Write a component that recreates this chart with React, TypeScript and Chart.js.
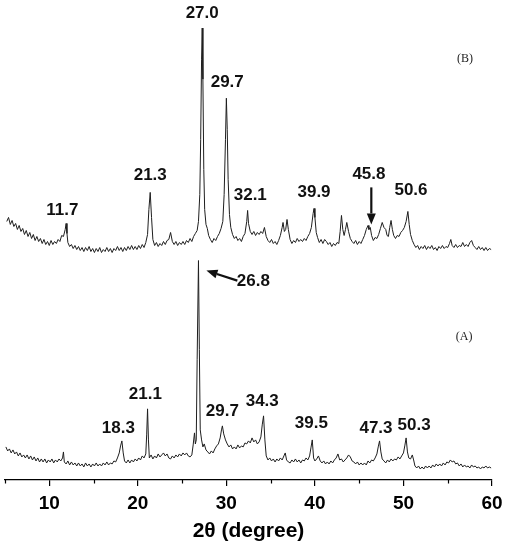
import React, { useEffect, useRef } from "react";
import { Chart, registerables } from "chart.js";

Chart.register(...registerables);

// 2θ axis
const X_MIN = 5;
const X_MAX = 60;
const majorTicks = [10, 20, 30, 40, 50, 60];
const minorTicks = [5, 15, 25, 35, 45, 55];

// Intensity (a.u.), stacked offsets already included
const traceB: [number, number][] = [
  [5.2, 258], [5.4, 262], [5.6, 255], [5.8, 259], [6.0, 253], [6.2, 256], [6.4, 250], [6.6, 254],
  [6.8, 248], [7.0, 251], [7.2, 245], [7.4, 249], [7.6, 243], [7.8, 247], [8.0, 241], [8.2, 245],
  [8.4, 239], [8.6, 243], [8.8, 238], [9.0, 241], [9.2, 236], [9.4, 240], [9.6, 235], [9.8, 238],
  [10.0, 234], [10.2, 239], [10.4, 235], [10.6, 238], [10.8, 236], [11.0, 240], [11.2, 238], [11.4, 244],
  [11.6, 243], [11.8, 250], [11.9, 256], [12.0, 246], [12.1, 237], [12.3, 233], [12.5, 235], [12.7, 231],
  [12.9, 234], [13.1, 230], [13.3, 233], [13.5, 229], [13.7, 232], [13.9, 228], [14.1, 232], [14.3, 229],
  [14.5, 233], [14.7, 228], [14.9, 231], [15.1, 227], [15.3, 231], [15.5, 228], [15.7, 232], [15.9, 227],
  [16.1, 230], [16.3, 228], [16.5, 232], [16.7, 228], [16.9, 231], [17.1, 227], [17.3, 231], [17.5, 229],
  [17.7, 233], [17.9, 229], [18.1, 232], [18.3, 228], [18.5, 232], [18.7, 229], [18.9, 233], [19.1, 230],
  [19.3, 234], [19.5, 230], [19.7, 233], [19.9, 230], [20.1, 234], [20.3, 231], [20.5, 235], [20.7, 232],
  [20.9, 237], [21.1, 245], [21.25, 270], [21.4, 287], [21.55, 262], [21.7, 240], [21.9, 234], [22.1, 237],
  [22.3, 233], [22.5, 236], [22.7, 234], [22.9, 238], [23.1, 235], [23.3, 239], [23.5, 240], [23.7, 247],
  [23.9, 238], [24.1, 235], [24.3, 238], [24.5, 234], [24.7, 237], [24.9, 235], [25.1, 238], [25.3, 235],
  [25.5, 239], [25.7, 237], [25.9, 241], [26.1, 238], [26.3, 243], [26.5, 246], [26.7, 249], [26.85, 258],
  [27.0, 285], [27.1, 340], [27.2, 420], [27.27, 451], [27.35, 400], [27.45, 310], [27.55, 270], [27.7, 255],
  [27.85, 251], [28.0, 244], [28.2, 240], [28.4, 237], [28.6, 241], [28.8, 239], [29.0, 243], [29.2, 246],
  [29.4, 251], [29.6, 258], [29.75, 285], [29.9, 340], [30.0, 381], [30.1, 350], [30.2, 300], [30.35, 265],
  [30.5, 252], [30.7, 245], [30.9, 241], [31.1, 243], [31.3, 239], [31.5, 241], [31.7, 238], [31.9, 243],
  [32.1, 246], [32.3, 258], [32.4, 269], [32.5, 256], [32.7, 248], [32.9, 245], [33.1, 248], [33.3, 244],
  [33.5, 247], [33.7, 245], [33.9, 248], [34.1, 246], [34.3, 252], [34.5, 243], [34.7, 239], [34.9, 237],
  [35.1, 240], [35.3, 236], [35.5, 238], [35.7, 235], [35.9, 239], [36.1, 244], [36.3, 252], [36.4, 257],
  [36.55, 248], [36.7, 250], [36.85, 260], [37.0, 250], [37.2, 240], [37.4, 236], [37.6, 239], [37.8, 237],
  [38.0, 241], [38.2, 238], [38.4, 240], [38.6, 238], [38.8, 241], [39.0, 239], [39.2, 243], [39.4, 246],
  [39.6, 252], [39.8, 266], [39.9, 271], [40.0, 262], [40.15, 247], [40.3, 242], [40.5, 237], [40.7, 240],
  [40.9, 236], [41.1, 240], [41.3, 238], [41.5, 235], [41.7, 237], [41.9, 233], [42.1, 236], [42.3, 234],
  [42.5, 237], [42.7, 236], [42.85, 248], [43.0, 264], [43.15, 250], [43.3, 244], [43.45, 250], [43.6, 257],
  [43.8, 248], [44.0, 241], [44.2, 238], [44.4, 236], [44.6, 239], [44.8, 235], [45.0, 238], [45.2, 236],
  [45.4, 240], [45.6, 244], [45.8, 250], [46.0, 254], [46.1, 250], [46.25, 252], [46.4, 244], [46.6, 239],
  [46.8, 242], [47.0, 241], [47.2, 245], [47.4, 251], [47.6, 257], [47.8, 252], [48.0, 250], [48.15, 244],
  [48.3, 243], [48.45, 252], [48.6, 259], [48.75, 250], [48.9, 244], [49.1, 241], [49.3, 244], [49.5, 243],
  [49.7, 247], [49.9, 249], [50.1, 252], [50.3, 258], [50.5, 268], [50.65, 255], [50.8, 245], [51.0, 239],
  [51.2, 235], [51.4, 232], [51.6, 234], [51.8, 230], [52.0, 233], [52.2, 231], [52.4, 234], [52.6, 230],
  [52.8, 233], [53.0, 231], [53.2, 234], [53.4, 230], [53.6, 232], [53.8, 229], [54.0, 233], [54.2, 231],
  [54.4, 234], [54.6, 231], [54.8, 233], [55.0, 232], [55.2, 236], [55.35, 240], [55.5, 234], [55.7, 232],
  [55.9, 235], [56.1, 232], [56.3, 234], [56.5, 233], [56.7, 237], [56.9, 233], [57.1, 235], [57.3, 233],
  [57.5, 237], [57.7, 239], [57.9, 234], [58.1, 232], [58.3, 230], [58.5, 233], [58.7, 230], [58.9, 232],
  [59.1, 229], [59.3, 232], [59.5, 229], [59.7, 231], [59.9, 230],
];

const traceA: [number, number][] = [
  [5.1, 33], [5.3, 29], [5.5, 31], [5.7, 27], [5.9, 30], [6.1, 26], [6.3, 28], [6.5, 24],
  [6.7, 27], [6.9, 23], [7.1, 25], [7.3, 22], [7.5, 25], [7.7, 21], [7.9, 24], [8.1, 20],
  [8.3, 23], [8.5, 19], [8.7, 22], [8.9, 18], [9.1, 21], [9.3, 18], [9.5, 21], [9.7, 17],
  [9.9, 20], [10.1, 18], [10.3, 21], [10.5, 17], [10.7, 20], [10.9, 18], [11.1, 21], [11.3, 19],
  [11.5, 22], [11.6, 28], [11.7, 18], [11.9, 16], [12.1, 19], [12.3, 15], [12.5, 18], [12.7, 15],
  [12.9, 17], [13.1, 14], [13.3, 17], [13.5, 14], [13.7, 16], [13.9, 13], [14.1, 17], [14.3, 14],
  [14.5, 16], [14.7, 13], [14.9, 16], [15.1, 14], [15.3, 17], [15.5, 14], [15.7, 16], [15.9, 14],
  [16.1, 17], [16.3, 15], [16.5, 18], [16.7, 15], [16.9, 17], [17.1, 16], [17.3, 19], [17.5, 18],
  [17.7, 22], [17.9, 27], [18.05, 34], [18.2, 39], [18.35, 27], [18.5, 19], [18.7, 17], [18.9, 20],
  [19.1, 17], [19.3, 20], [19.5, 18], [19.7, 21], [19.9, 19], [20.1, 22], [20.3, 20], [20.5, 24],
  [20.7, 22], [20.9, 26], [21.0, 45], [21.1, 71], [21.2, 40], [21.3, 22], [21.5, 25], [21.7, 21],
  [21.9, 24], [22.1, 22], [22.3, 26], [22.5, 23], [22.7, 25], [22.9, 27], [23.1, 24], [23.3, 26],
  [23.5, 22], [23.7, 21], [23.9, 24], [24.1, 22], [24.3, 25], [24.5, 23], [24.7, 26], [24.9, 24],
  [25.1, 27], [25.3, 25], [25.5, 27], [25.7, 24], [25.9, 23], [26.1, 25], [26.25, 35], [26.4, 47],
  [26.5, 36], [26.6, 40], [26.7, 120], [26.85, 219], [26.95, 130], [27.05, 50], [27.2, 40], [27.35, 33],
  [27.5, 36], [27.7, 30], [27.9, 28], [28.1, 26], [28.3, 29], [28.5, 27], [28.7, 31], [28.9, 34],
  [29.1, 36], [29.3, 42], [29.45, 50], [29.55, 54], [29.7, 46], [29.9, 40], [30.1, 36], [30.3, 33],
  [30.5, 35], [30.7, 31], [30.9, 33], [31.1, 31], [31.3, 35], [31.5, 32], [31.7, 34], [31.9, 33],
  [32.1, 37], [32.3, 36], [32.5, 39], [32.7, 37], [32.9, 42], [33.1, 38], [33.3, 40], [33.5, 36],
  [33.7, 38], [33.9, 43], [34.05, 55], [34.2, 64], [34.35, 40], [34.5, 24], [34.7, 20], [34.9, 22],
  [35.1, 19], [35.3, 21], [35.5, 18], [35.7, 21], [35.9, 19], [36.1, 22], [36.3, 20], [36.5, 24],
  [36.65, 27], [36.8, 20], [37.0, 18], [37.2, 17], [37.4, 20], [37.6, 18], [37.8, 21], [38.0, 18],
  [38.2, 20], [38.4, 17], [38.6, 20], [38.8, 19], [39.0, 22], [39.2, 20], [39.4, 24], [39.55, 32],
  [39.7, 40], [39.85, 22], [40.0, 19], [40.2, 21], [40.4, 24], [40.6, 19], [40.8, 17], [41.0, 19],
  [41.2, 16], [41.4, 18], [41.6, 16], [41.8, 19], [42.0, 17], [42.2, 20], [42.4, 22], [42.6, 26],
  [42.8, 20], [43.0, 21], [43.2, 18], [43.4, 20], [43.6, 22], [43.8, 25], [44.0, 23], [44.2, 19],
  [44.4, 18], [44.6, 16], [44.8, 18], [45.0, 15], [45.2, 17], [45.4, 15], [45.6, 17], [45.8, 15],
  [46.0, 19], [46.2, 17], [46.4, 20], [46.6, 19], [46.8, 22], [47.0, 26], [47.15, 33], [47.3, 39],
  [47.45, 28], [47.6, 21], [47.8, 19], [48.0, 17], [48.2, 20], [48.4, 18], [48.6, 21], [48.8, 19],
  [49.0, 21], [49.2, 20], [49.4, 23], [49.6, 21], [49.8, 24], [50.0, 27], [50.15, 34], [50.3, 42],
  [50.45, 28], [50.6, 22], [50.8, 21], [51.0, 25], [51.15, 20], [51.3, 14], [51.5, 12], [51.7, 14],
  [51.9, 11], [52.1, 13], [52.3, 11], [52.5, 14], [52.7, 12], [52.9, 14], [53.1, 12], [53.3, 15],
  [53.5, 13], [53.7, 16], [53.9, 14], [54.1, 16], [54.3, 14], [54.5, 17], [54.7, 15], [54.9, 18],
  [55.1, 17], [55.3, 20], [55.5, 18], [55.7, 19], [55.9, 16], [56.1, 17], [56.3, 14], [56.5, 16],
  [56.7, 13], [56.9, 15], [57.1, 13], [57.3, 14], [57.5, 12], [57.7, 15], [57.9, 13], [58.1, 14],
  [58.3, 12], [58.5, 13], [58.7, 11], [58.9, 13], [59.1, 12], [59.3, 14], [59.5, 12], [59.7, 13],
  [59.9, 12],
];

// Peak annotations (2θ, intensity)
const peakLabelsB = [
  { text: "27.0", x: 27.27, y: 466 },
  { text: "29.7", x: 30.1, y: 397 },
  { text: "21.3", x: 21.4, y: 304 },
  { text: "11.7", x: 11.47, y: 269 },
  { text: "32.1", x: 32.7, y: 284 },
  { text: "39.9", x: 39.9, y: 287 },
  { text: "45.8", x: 46.1, y: 305 },
  { text: "50.6", x: 50.85, y: 289 },
];
const peakLabelsA = [
  { text: "26.8", x: 33.05, y: 198 },
  { text: "21.1", x: 20.85, y: 86 },
  { text: "18.3", x: 17.8, y: 52 },
  { text: "29.7", x: 29.55, y: 69 },
  { text: "34.3", x: 34.05, y: 79 },
  { text: "39.5", x: 39.6, y: 57 },
  { text: "47.3", x: 46.9, y: 52 },
  { text: "50.3", x: 51.2, y: 55 },
];
const panelLabels = [
  { text: "(B)", x: 56.95, y: 420 },
  { text: "(A)", x: 56.85, y: 143 },
];
const arrows = [
  { x1: 31.24, y1: 199, x2: 27.75, y2: 209 },
  { x1: 46.37, y1: 292, x2: 46.37, y2: 255 },
];

const annotationPlugin = {
  id: "annotations",
  afterDatasetsDraw(chart: any) {
    const { ctx, scales } = chart;
    const xs = scales.x;
    const ys = scales.y;
    const bottom = chart.chartArea.bottom;
    ctx.save();
    // minor ticks
    ctx.strokeStyle = "#000";
    ctx.lineWidth = 1.2;
    minorTicks.forEach((v) => {
      const px = Math.round(xs.getPixelForValue(v)) + 0.5;
      ctx.beginPath();
      ctx.moveTo(px, bottom);
      ctx.lineTo(px, bottom + 3.5);
      ctx.stroke();
    });
    // labels
    ctx.fillStyle = "#111";
    ctx.textAlign = "center";
    ctx.textBaseline = "middle";
    ctx.font = "bold 17px 'Liberation Sans', Arial, sans-serif";
    [...peakLabelsB, ...peakLabelsA].forEach((l) => {
      ctx.fillText(l.text, xs.getPixelForValue(l.x), ys.getPixelForValue(l.y));
    });
    ctx.font = "12px 'Liberation Serif', 'Times New Roman', serif";
    ctx.fillStyle = "#222";
    panelLabels.forEach((l) => {
      ctx.fillText(l.text, xs.getPixelForValue(l.x), ys.getPixelForValue(l.y));
    });
    // arrows
    ctx.strokeStyle = "#111";
    ctx.fillStyle = "#111";
    arrows.forEach((a) => {
      const x1 = xs.getPixelForValue(a.x1);
      const y1 = ys.getPixelForValue(a.y1);
      const x2 = xs.getPixelForValue(a.x2);
      const y2 = ys.getPixelForValue(a.y2);
      const ang = Math.atan2(y2 - y1, x2 - x1);
      const headLen = 11;
      const headW = 4.5;
      const bx = x2 - headLen * Math.cos(ang);
      const by = y2 - headLen * Math.sin(ang);
      ctx.lineWidth = 2.2;
      ctx.beginPath();
      ctx.moveTo(x1, y1);
      ctx.lineTo(bx, by);
      ctx.stroke();
      ctx.beginPath();
      ctx.moveTo(x2, y2);
      ctx.lineTo(bx + headW * Math.sin(ang), by - headW * Math.cos(ang));
      ctx.lineTo(bx - headW * Math.sin(ang), by + headW * Math.cos(ang));
      ctx.closePath();
      ctx.fill();
    });
    ctx.restore();
  },
};

export default function App() {
  const ref = useRef<HTMLCanvasElement | null>(null);
  useEffect(() => {
    if (!ref.current) return;
    const toPts = (t: [number, number][]) => t.map(([x, y]) => ({ x, y }));
    const chart = new Chart(ref.current, {
      type: "line",
      data: {
        datasets: [
          {
            label: "(B)",
            data: toPts(traceB),
            borderColor: "#1e1e1e",
            borderWidth: 1,
            pointRadius: 0,
            tension: 0,
            fill: false,
          },
          {
            label: "(A)",
            data: toPts(traceA),
            borderColor: "#1e1e1e",
            borderWidth: 1,
            pointRadius: 0,
            tension: 0,
            fill: false,
          },
        ],
      },
      options: {
        animation: false,
        responsive: false,
        maintainAspectRatio: false,
        layout: { padding: { left: 5, right: 16, top: 0, bottom: 0 } },
        plugins: { legend: { display: false }, tooltip: { enabled: false } },
        scales: {
          x: {
            type: "linear",
            min: X_MIN,
            max: X_MAX,
            afterBuildTicks: (scale: any) => {
              scale.ticks = majorTicks.map((v) => ({ value: v }));
            },
            afterFit: (scale: any) => {
              scale.paddingLeft = 0;
              scale.paddingRight = 0;
            },
            border: { display: true, color: "#000", width: 1.3 },
            grid: {
              drawOnChartArea: false,
              drawTicks: true,
              tickLength: 6,
              color: "#000",
              lineWidth: 1.2,
            },
            ticks: {
              padding: 8,
              color: "#000",
              font: { family: "'Liberation Sans', Arial, sans-serif", size: 19, weight: "bold", lineHeight: 1.0 },
            },
            title: {
              display: true,
              text: "2θ (degree)",
              color: "#000",
              padding: { top: 0, bottom: 5 },
              font: { family: "'Liberation Sans', Arial, sans-serif", size: 21, weight: "bold", lineHeight: 1.0 },
            },
          },
          y: {
            type: "linear",
            display: false,
            min: 0,
            max: 479,
          },
        },
      },
      plugins: [annotationPlugin],
    });
    return () => chart.destroy();
  }, []);
  return (
    <div style={{ position: "absolute", left: 0, top: 0, width: 508, height: 547, background: "#fff" }}>
      <canvas ref={ref} width={508} height={547} style={{ display: "block" }} />
    </div>
  );
}
